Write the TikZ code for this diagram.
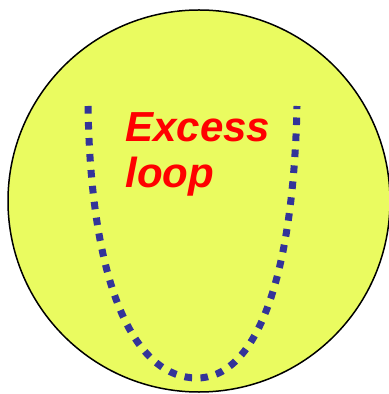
\documentclass[tikz,border=0pt]{standalone}
\usepackage{fontspec}
\setmainfont{Liberation Sans}
\definecolor{ballYellow}{RGB}{234, 251, 96}
\definecolor{loopBlue}{RGB}{51, 51, 153}
\definecolor{textRed}{RGB}{255, 0, 0}
\usepackage{tikz}
\usetikzlibrary{positioning}

\begin{document}
\begin{tikzpicture}[
    x=0.5pt, y=-0.5pt,
    ball/.style={draw=black, line width=0.75pt, fill=ballYellow},
    loopline/.style={draw=loopBlue, line width=3.5pt,
                     dash pattern=on 3.8pt off 4.2pt},
    label/.style={text=textRed, inner sep=0pt, align=left,
                  font=\fontsize{21}{23}\selectfont\bfseries\itshape},
  ]
    \useasboundingbox (0,0) rectangle (388,394);
    \node[ball, circle, minimum size=191pt, inner sep=0pt] (ball) at (199,201) {};

    % the loop
    \coordinate (lefttop) at (88,106);
    \coordinate (bottom) at (197,378);
    \coordinate (righttop) at (297,106);
    \draw[loopline] (lefttop) .. controls (91,295) and (138,378) .. (bottom)
                     .. controls (252,378) and (293,290) .. (righttop);

    \node[label, anchor=north west] (excess) at (125,112) {Excess\\loop};
  \end{tikzpicture}
\end{document}
